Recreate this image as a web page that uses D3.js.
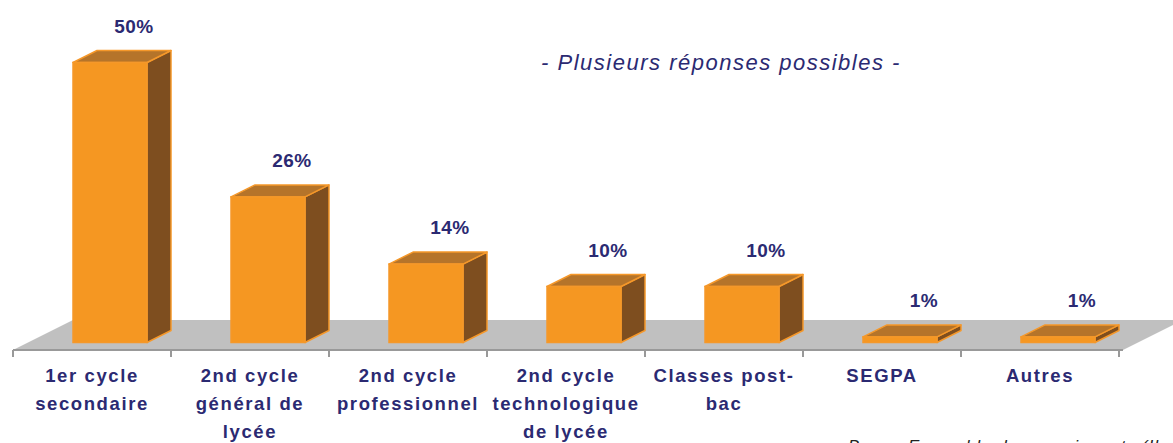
<!DOCTYPE html>
<html><head><meta charset="utf-8">
<script src="https://cdn.jsdelivr.net/npm/d3@7"></script>
<style>html,body{margin:0;padding:0;background:#fff;overflow:hidden}</style>
</head><body>
<svg id="c" width="1173" height="443"></svg>
<script>
const categories = ["1er cycle secondaire","2nd cycle général de lycée","2nd cycle professionnel","2nd cycle technologique de lycée","Classes post-bac","SEGPA","Autres"];
const tickLabels = [["1er cycle","secondaire"],["2nd cycle","général de","lycée"],["2nd cycle","professionnel"],["2nd cycle","technologique","de lycée"],["Classes post-","bac"],["SEGPA"],["Autres"]];
const values = [50,26,14,10,10,1,1];
const valueLabels = ["50%","26%","14%","10%","10%","1%","1%"];
const title = "- Plusieurs réponses possibles -";
const note = "Base : Ensemble des enseignants (Ile-de-France)";

const svg = d3.select("#c");
const navy = "#2B2A72";
const font = "'Liberation Sans', Arial, sans-serif";
const x = d3.scaleBand().domain(categories).range([13, 1119]).padding(0);
const baseY = 342.5;
const y = d3.scaleLinear().domain([0, 50]).range([baseY, baseY - 280]);
const dx = 24, dy = -12;
const fdx = 60, fdy = -30;
const axisY = 350;

// floor
svg.append("polygon")
  .attr("points", [[13,axisY],[13+fdx,axisY+fdy],[1123+fdx,axisY+fdy],[1123,axisY]].map(p=>p.join(",")).join(" "))
  .attr("fill", "#C0C0C0");

// axis
const axis = d3.axisBottom(x).tickSize(7).tickFormat("");
const gA = svg.append("g").attr("transform", `translate(0,${axisY})`).call(axis);
gA.select(".domain").attr("stroke", "#999").attr("stroke-width", 2).attr("d", `M13,0H1123`);
gA.selectAll(".tick").remove();
const edges = categories.map(c => x(c)).concat([x(categories[categories.length-1]) + x.bandwidth()]);
gA.selectAll("line.t").data(edges).join("line").attr("class","t")
  .attr("x1", d=>d).attr("x2", d=>d).attr("y1", 0).attr("y2", 7)
  .attr("stroke", "#999").attr("stroke-width", 2);

// bars
const bw = 74, off = 60;
const bars = svg.append("g").selectAll("g").data(values).join("g");
bars.each(function(v, i) {
  const g = d3.select(this);
  const x0 = x(categories[i]) + off, x1 = x0 + bw;
  const yt = y(v), yb = baseY;
  g.append("polygon").attr("points", [[x1,yb],[x1+dx,yb+dy],[x1+dx,yt+dy],[x1,yt]].map(p=>p.join(",")).join(" "))
    .attr("fill", "#7E4E1F").attr("stroke", "#F5982A").attr("stroke-width", 1.5).attr("stroke-linejoin","round");
  g.append("polygon").attr("points", [[x0,yt],[x0+dx,yt+dy],[x1+dx,yt+dy],[x1,yt]].map(p=>p.join(",")).join(" "))
    .attr("fill", "#B5742A").attr("stroke", "#F5982A").attr("stroke-width", 1.5).attr("stroke-linejoin","round");
  g.append("rect").attr("x", x0).attr("y", yt).attr("width", bw).attr("height", yb - yt)
    .attr("fill", "#F59722").attr("stroke", "#F5982A").attr("stroke-width", 1.5);
  g.append("text").attr("x", x0 + 61).attr("y", yt + dy - 18)
    .attr("text-anchor", "middle").attr("fill", navy)
    .attr("font-family", font).attr("font-weight", "bold").attr("font-size", 19)
    .attr("letter-spacing", 0.5)
    .text(valueLabels[i]);
});

// category labels
const lab = svg.append("g");
tickLabels.forEach((lines, i) => {
  const cx = x(categories[i]) + x.bandwidth() / 2;
  const t = lab.append("text").attr("text-anchor", "middle").attr("fill", navy)
    .attr("font-family", font).attr("font-weight", "bold").attr("font-size", 18.5)
    .attr("letter-spacing", 1.6);
  lines.forEach((l, j) => t.append("tspan").attr("x", cx).attr("y", 382 + j * 28).text(l));
});

// title
svg.append("text").attr("x", 721).attr("y", 70).attr("text-anchor", "middle")
  .attr("fill", navy).attr("font-style", "italic").attr("font-size", 22)
  .attr("letter-spacing", 1.5)
  .attr("font-family", font).text(title);

// note
svg.append("text").attr("x", 848).attr("y", 452)
  .attr("fill", "#222").attr("font-style", "italic").attr("font-size", 17)
  .attr("letter-spacing", 1)
  .attr("font-family", font).text(note);
</script>
</body></html>
